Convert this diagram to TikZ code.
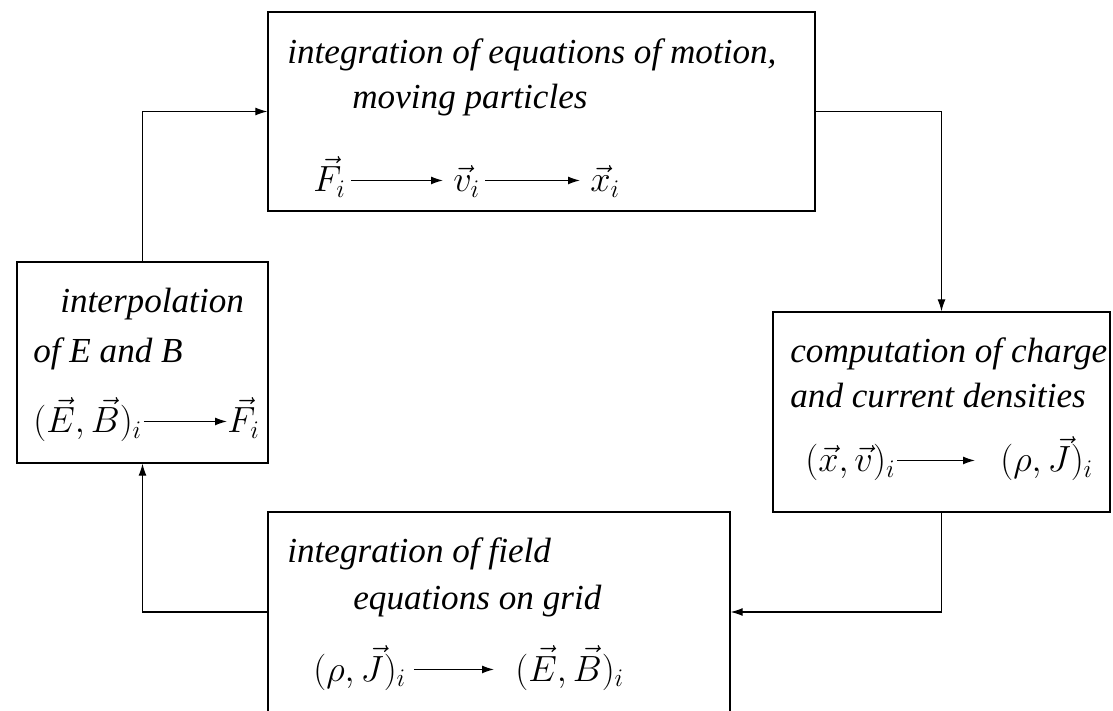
\documentclass[tikz,border=0pt]{standalone}
\usepackage{amsmath,amssymb}
\usepackage[no-math]{fontspec}
\setmainfont{Liberation Serif}
\usetikzlibrary{arrows.meta}

\begin{document}
\begin{tikzpicture}[>={Latex[length=2.4mm,width=1.6mm]},
	box/.style={draw, line width=0.8pt, rectangle, inner sep=0pt},
	txt/.style={anchor=base west, inner sep=0pt, font=\fontsize{20}{24}\selectfont\itshape},
	mth/.style={anchor=base west, inner sep=0pt, font=\fontsize{20}{24}\selectfont},
	flow/.style={line width=0.6pt, ->},
	step arrow/.style={line width=0.75pt, ->}]
	\clip (0,0) rectangle (22.26,14.2);
	\useasboundingbox (0,0) rectangle (22.26,14.2);
	% the four stages of the cycle
	\node[box, minimum width=10.94cm, minimum height=3.98cm] (push) at (10.83,11.97) {};
	\node[box, minimum width=6.74cm, minimum height=4cm] (dep) at (18.83,5.96) {};
	\node[box, minimum width=9.24cm, minimum height=4cm] (field) at (9.98,1.96) {};
	\node[box, minimum width=5.02cm, minimum height=4.02cm] (interp) at (2.85,6.95) {};
	% texts
	\node[txt] (pushA) at (5.74,12.92) {integration of equations of motion,};
	\node[txt] (pushB) at (7.04,12.02) {moving particles};
	\node[mth] (Fa) at (6.26,10.36) {$\vec{F}_i$};
	\node[mth] (va) at (9.06,10.36) {$\vec{v}_i$};
	\node[mth] (xa) at (11.8,10.36) {$\vec{x}_i$};
	\node[txt] (depA) at (15.8,6.94) {computation of charge};
	\node[txt] (depB) at (15.8,6.04) {and current densities};
	\node[mth] (xv) at (16.1,4.76) {$(\vec{x},\vec{v})_i$};
	\node[mth] (rJa) at (20.0,4.76) {$(\rho,\vec{J})_i$};
	\node[txt] (fieldA) at (5.74,2.94) {integration of field};
	\node[txt] (fieldB) at (7.06,2.02) {equations on grid};
	\node[mth] (rJb) at (6.26,0.58) {$(\rho,\vec{J})_i$};
	\node[mth] (EBb) at (10.3,0.58) {$(\vec{E},\vec{B})_i$};
	\node[txt] (interpA) at (1.2,7.94) {interpolation};
	\node[txt] (interpB) at (0.66,6.94) {of E and B};
	\node[mth] (EBa) at (0.66,5.54) {$(\vec{E},\vec{B})_i$};
	\node[mth] (Fb) at (4.54,5.54) {$\vec{F}_i$};
	% arrows inside the boxes
	\draw[step arrow] ([shift={(1mm,1.5mm)}]Fa.mid east) -- ([shift={(-2mm,1.5mm)}]va.mid west);
	\draw[step arrow] ([shift={(1mm,1.5mm)}]va.mid east) -- ([shift={(-2mm,1.5mm)}]xa.mid west);
	\draw[step arrow] ([shift={(0.3mm,1.5mm)}]xv.mid east) -- ([shift={(-5mm,1.5mm)}]rJa.mid west);
	\draw[step arrow] ([shift={(1.5mm,1.5mm)}]rJb.mid east) -- ([shift={(-4.2mm,1.5mm)}]EBb.mid west);
	\draw[step arrow] ([shift={(0.3mm,1.5mm)}]EBa.mid east) -- ([yshift=1.5mm]Fb.mid west);
	% the cycle
	\draw[flow] (interp.north) |- (push.west);
	\draw[flow] (push.east) -| (dep.north);
	\draw[flow] (dep.south) |- (field.east);
	\draw[flow] (field.west) -| (interp.south);
\end{tikzpicture}
\end{document}
